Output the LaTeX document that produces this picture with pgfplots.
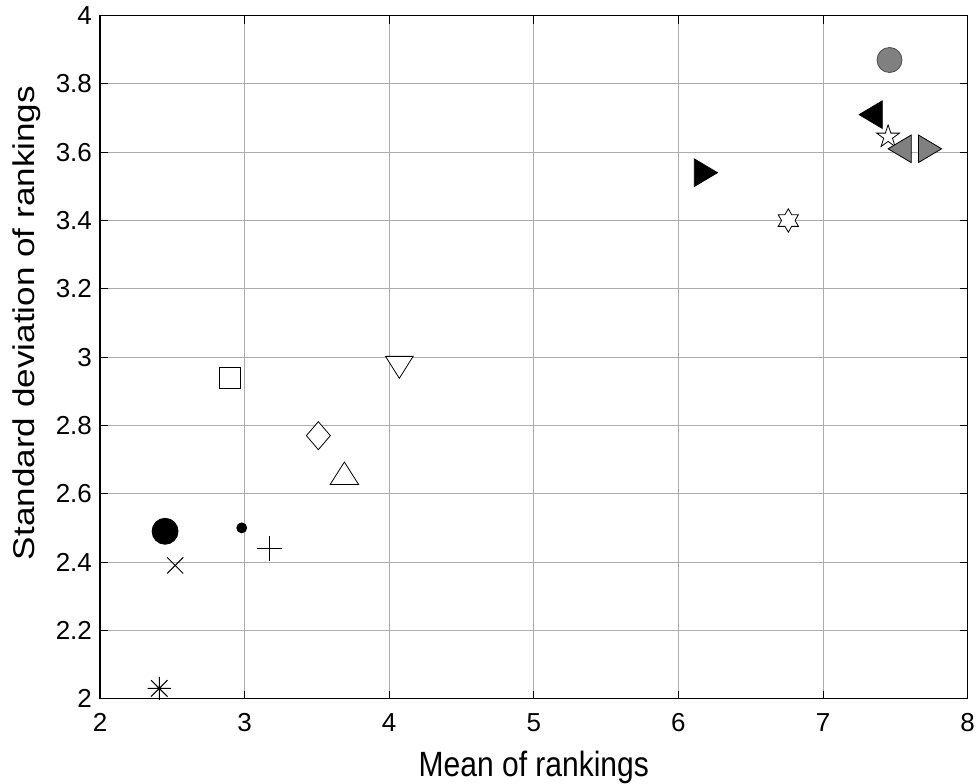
\documentclass[border=0pt]{standalone}
\usepackage{fontspec}
\setmainfont{Liberation Sans}
\usepackage{pgfplots}
\pgfplotsset{compat=1.18}

% ---- marker shapes (outlines follow the usual MATLAB glyphs) ----
\pgfdeclareplotmark{tri up}{%
  \pgfpathmoveto{\pgfpoint{0pt}{5.6pt}}%
  \pgfpathlineto{\pgfpoint{7.1pt}{-5.6pt}}%
  \pgfpathlineto{\pgfpoint{-7.1pt}{-5.6pt}}%
  \pgfpathclose\pgfusepathqfillstroke}
\pgfdeclareplotmark{tri down}{%
  \pgfpathmoveto{\pgfpoint{0pt}{-5.5pt}}%
  \pgfpathlineto{\pgfpoint{6.9pt}{5.5pt}}%
  \pgfpathlineto{\pgfpoint{-6.9pt}{5.5pt}}%
  \pgfpathclose\pgfusepathqfillstroke}
\pgfdeclareplotmark{tri right}{%
  \pgfpathmoveto{\pgfpoint{5.8pt}{0pt}}%
  \pgfpathlineto{\pgfpoint{-5.8pt}{6.9pt}}%
  \pgfpathlineto{\pgfpoint{-5.8pt}{-6.9pt}}%
  \pgfpathclose\pgfusepathqfillstroke}
\pgfdeclareplotmark{tri left}{%
  \pgfpathmoveto{\pgfpoint{-5.8pt}{0pt}}%
  \pgfpathlineto{\pgfpoint{5.8pt}{6.9pt}}%
  \pgfpathlineto{\pgfpoint{5.8pt}{-6.9pt}}%
  \pgfpathclose\pgfusepathqfillstroke}
\pgfdeclareplotmark{sq}{%
  \pgfpathrectanglecorners{\pgfpoint{-5.2pt}{-5.2pt}}{\pgfpoint{5.2pt}{5.2pt}}%
  \pgfusepathqfillstroke}
\pgfdeclareplotmark{dia}{%
  \pgfpathmoveto{\pgfpoint{0pt}{7pt}}%
  \pgfpathlineto{\pgfpoint{6pt}{0pt}}%
  \pgfpathlineto{\pgfpoint{0pt}{-7pt}}%
  \pgfpathlineto{\pgfpoint{-6pt}{0pt}}%
  \pgfpathclose\pgfusepathqfillstroke}
\pgfdeclareplotmark{plus6}{%
  \pgfpathmoveto{\pgfpoint{-6.2pt}{0pt}}\pgfpathlineto{\pgfpoint{6.2pt}{0pt}}%
  \pgfpathmoveto{\pgfpoint{0pt}{-6.2pt}}\pgfpathlineto{\pgfpoint{0pt}{6.2pt}}%
  \pgfusepathqstroke}
\pgfdeclareplotmark{cross4}{%
  \pgfpathmoveto{\pgfpoint{-4pt}{-4pt}}\pgfpathlineto{\pgfpoint{4pt}{4pt}}%
  \pgfpathmoveto{\pgfpoint{-4pt}{4pt}}\pgfpathlineto{\pgfpoint{4pt}{-4pt}}%
  \pgfusepathqstroke}
\pgfdeclareplotmark{aster}{%
  \pgfpathmoveto{\pgfpoint{-5.8pt}{0pt}}\pgfpathlineto{\pgfpoint{5.8pt}{0pt}}%
  \pgfpathmoveto{\pgfpoint{0pt}{-5.8pt}}\pgfpathlineto{\pgfpoint{0pt}{5.8pt}}%
  \pgfpathmoveto{\pgfpoint{-4.1pt}{-4.1pt}}\pgfpathlineto{\pgfpoint{4.1pt}{4.1pt}}%
  \pgfpathmoveto{\pgfpoint{-4.1pt}{4.1pt}}\pgfpathlineto{\pgfpoint{4.1pt}{-4.1pt}}%
  \pgfusepathqstroke}
\pgfdeclareplotmark{hexa}{%
  \pgfpathmoveto{\pgfpointpolar{90}{5.85pt}}%
  \pgfpathlineto{\pgfpointpolar{120}{3.38pt}}%
  \pgfpathlineto{\pgfpointpolar{150}{5.85pt}}%
  \pgfpathlineto{\pgfpointpolar{180}{3.38pt}}%
  \pgfpathlineto{\pgfpointpolar{210}{5.85pt}}%
  \pgfpathlineto{\pgfpointpolar{240}{3.38pt}}%
  \pgfpathlineto{\pgfpointpolar{270}{5.85pt}}%
  \pgfpathlineto{\pgfpointpolar{300}{3.38pt}}%
  \pgfpathlineto{\pgfpointpolar{330}{5.85pt}}%
  \pgfpathlineto{\pgfpointpolar{0}{3.38pt}}%
  \pgfpathlineto{\pgfpointpolar{30}{5.85pt}}%
  \pgfpathlineto{\pgfpointpolar{60}{3.38pt}}%
  \pgfpathclose\pgfusepathqfillstroke}
\pgfdeclareplotmark{penta}{%
  \pgfpathmoveto{\pgfpointpolar{90}{6pt}}%
  \pgfpathlineto{\pgfpointpolar{126}{2.3pt}}%
  \pgfpathlineto{\pgfpointpolar{162}{6pt}}%
  \pgfpathlineto{\pgfpointpolar{198}{2.3pt}}%
  \pgfpathlineto{\pgfpointpolar{234}{6pt}}%
  \pgfpathlineto{\pgfpointpolar{270}{2.3pt}}%
  \pgfpathlineto{\pgfpointpolar{306}{6pt}}%
  \pgfpathlineto{\pgfpointpolar{342}{2.3pt}}%
  \pgfpathlineto{\pgfpointpolar{18}{6pt}}%
  \pgfpathlineto{\pgfpointpolar{54}{2.3pt}}%
  \pgfpathclose\pgfusepathqfillstroke}

\definecolor{markgray}{RGB}{128,128,128}

\pgfplotsset{
  pt/.style={only marks, mark options={solid, line width=0.5pt, draw=black}},
}

\begin{document}
\begin{tikzpicture}
\begin{axis}[
  scale only axis,
  width=433.8pt, height=341.5pt,
  xmin=2, xmax=8, ymin=2, ymax=4,
  xtick={2,3,4,5,6,7,8},
  ytick={2,2.2,2.4,2.6,2.8,3,3.2,3.4,3.6,3.8,4},
  yticklabels={2,2.2,2.4,2.6,2.8,3,3.2,3.4,3.6,3.8,4},
  grid=major,
  major grid style={gray!65, line width=0.5pt},
  tick align=inside, tick pos=both,
  major tick length=4pt,
  tick style={black, line width=0.5pt},
  axis line style={black, line width=0.6pt},
  /pgf/number format/assume math mode=true,
  ticklabel style={font=\fontsize{13}{15}\selectfont},
  xticklabel style={yshift=-4pt},
  yticklabel style={xshift=-0.5pt},
  xlabel={\scalebox{1}[1.17]{Mean of rankings}},
  ylabel={\scalebox{1.17}[1]{Standard deviation of rankings}},
  label style={font=\fontsize{15}{18}\selectfont},
  xlabel style={at={([yshift=-39pt]axis description cs:0.5,0)}, anchor=base},
  ylabel style={at={([xshift=-32.5pt]axis description cs:0,0.55)}, anchor=base},
]
% filled circles
\addplot[pt, mark=*, mark size=6.5pt, mark options={fill=black}] coordinates {(2.45,2.49)};
\addplot[pt, mark=*, mark size=2.5pt, mark options={fill=black}] coordinates {(2.98,2.50)};
\addplot[pt, mark=*, mark size=6.25pt, mark options={fill=markgray, draw=black!70}] coordinates {(7.46,3.87)};
% line markers
\addplot[pt, mark=plus6] coordinates {(3.17,2.44)};
\addplot[pt, mark=cross4] coordinates {(2.52,2.39)};
\addplot[pt, mark=aster] coordinates {(2.41,2.03)};
% open markers
\addplot[pt, mark=sq, mark options={fill=white}] coordinates {(2.90,2.94)};
\addplot[pt, mark=dia, mark options={fill=white}] coordinates {(3.51,2.77)};
\addplot[pt, mark=tri up, mark options={fill=white}] coordinates {(3.69,2.66)};
\addplot[pt, mark=tri down, mark options={fill=white}] coordinates {(4.07,2.97)};
\addplot[pt, mark=hexa, mark options={fill=white}] coordinates {(6.76,3.40)};
\addplot[pt, mark=penta, mark options={fill=white}] coordinates {(7.45,3.645)};
% filled triangles
\addplot[pt, mark=tri right, mark options={fill=black}] coordinates {(6.19,3.54)};
\addplot[pt, mark=tri left, mark options={fill=black}] coordinates {(7.33,3.71)};
\addplot[pt, mark=tri left, mark options={fill=markgray}] coordinates {(7.53,3.61)};
\addplot[pt, mark=tri right, mark options={fill=markgray}] coordinates {(7.74,3.61)};
\end{axis}
\pgfresetboundingbox
\useasboundingbox ([shift={(-50pt,-42.2pt)}]current axis.south west)
  rectangle ([shift={(6.2pt,7.8pt)}]current axis.north east);
\end{tikzpicture}
\end{document}
